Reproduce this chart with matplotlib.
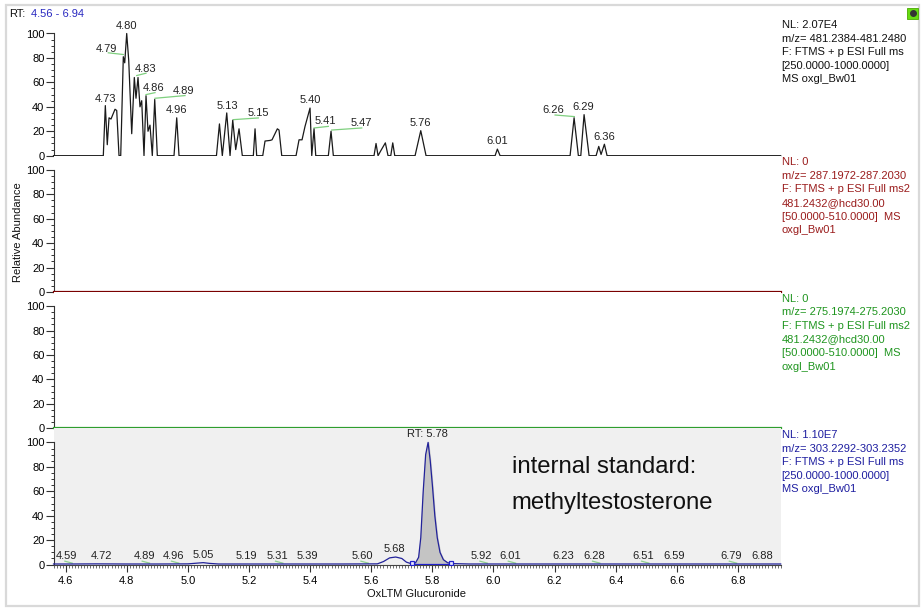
import matplotlib
matplotlib.use("Agg")
import matplotlib.pyplot as plt
import numpy as np
from matplotlib.patches import Rectangle
from matplotlib.lines import Line2D
from matplotlib.ticker import FixedLocator, MultipleLocator, FormatStrFormatter

plt.rcParams['font.family'] = ['Liberation Sans', 'DejaVu Sans']

W, H = 922, 608

# ---------------- data ----------------
rt_min, rt_max = 4.56, 6.94

# panel 1: m/z 481.2384-481.2480 (relative abundance)
trace1_rt = [4.560, 4.723, 4.7296, 4.736, 4.7417, 4.7482, 4.7613, 4.7669, 4.7744, 4.780,
             4.7885, 4.7931, 4.7996, 4.8062, 4.816, 4.8245, 4.830, 4.8366, 4.8431, 4.8487,
             4.8562, 4.8628, 4.8693, 4.8758, 4.8834, 4.8913, 4.8998, 4.9544, 4.9633, 4.9708,
             5.0933, 5.1031, 5.1125, 5.127, 5.1378, 5.1466, 5.1564, 5.1672, 5.178, 5.214,
             5.2196, 5.225, 5.2448, 5.2523, 5.2687, 5.2752, 5.2926, 5.2981, 5.307, 5.3538,
             5.3636, 5.3734, 5.3832, 5.3996, 5.4052, 5.4127, 5.4183, 5.4595, 5.4683, 5.4759,
             5.609, 5.6156, 5.6222, 5.631, 5.6461, 5.6549, 5.6638, 5.6703, 5.6769, 5.7433,
             5.762, 5.7793, 6.0052, 6.0127, 6.0216, 6.2507, 6.2638, 6.2778, 6.2857, 6.2965,
             6.3129, 6.3358, 6.3445, 6.3521, 6.363, 6.3718, 6.940]
trace1_int = [0, 0, 41, 9, 31, 30, 38, 37, 0, 0,
              81, 76, 100, 78, 18, 64, 47, 64, 40, 45,
              0, 49, 20, 25, 0, 46, 0, 0, 31, 0,
              0, 26, 0, 35, 0, 29, 5, 22, 0, 0,
              22, 0, 0, 12, 12.5, 13, 22, 21, 0, 0,
              13, 13, 24, 39, 0, 22, 0, 0, 20, 0,
              0, 10, 0, 4, 10.5, 0, 0, 10.5, 0, 0,
              20.5, 0, 0, 5.4, 0, 0, 31, 0, 0, 33.6,
              0, 0, 7.6, 1, 9.4, 0, 0]

# panels 2 and 3: NL 0 -> flat
trace2_rt = [4.56, 6.94]
trace2_int = [0, 0]
trace3_rt = [4.56, 6.94]
trace3_int = [0, 0]

# panel 4: internal standard m/z 303.2292-303.2352
trace4_rt = [4.56, 4.62, 4.70, 4.80, 4.90, 5.00, 5.03, 5.05, 5.07, 5.10,
             5.30, 5.50, 5.62, 5.64, 5.66, 5.68, 5.70, 5.715, 5.73, 5.745,
             5.755, 5.762, 5.770, 5.778, 5.786, 5.793, 5.800, 5.808, 5.816, 5.825,
             5.836, 5.85, 5.87, 5.92, 6.10, 6.40, 6.70, 6.94]
trace4_int = [0.5, 0.5, 0.6, 0.5, 0.5, 0.6, 1.2, 1.6, 1.0, 0.5,
              0.5, 0.5, 0.6, 2.5, 5.5, 6.2, 5.0, 2.0, 0.8, 1.5,
              6, 22, 60, 90, 100, 85, 65, 40, 22, 10,
              4, 1.5, 0.8, 0.5, 0.5, 0.5, 0.5, 0.5]
integ_bounds = [5.7345, 5.8611]

# peak labels panel 1: text, rt, y
p1_labels = ["4.73", "4.80", "4.79", "4.83", "4.86", "4.89", "4.96", "5.13", "5.15",
             "5.40", "5.41", "5.47", "5.76", "6.01", "6.26", "6.29", "6.36"]
p1_label_rt = [4.7286, 4.7973, 4.7319, 4.8628, 4.889, 4.9849, 4.9633, 5.1302, 5.2304,
               5.3996, 5.4487, 5.5689, 5.762, 6.0107, 6.196, 6.2922, 6.363]
p1_label_y = [46.5, 106, 87.5, 71, 55.5, 53.3, 37.5, 40.4, 34.7,
              45.6, 28.1, 26.5, 26.5, 11.7, 37.7, 39.6, 15]
# leader lines (rt0, y0, rt1, y1)
p1_leaders = [(4.7394, 84.2, 4.7885, 82.8), (4.8323, 65.6, 4.8628, 67.5),
              (4.8628, 50.0, 4.8922, 51.6), (4.8922, 47.0, 4.9904, 49.2),
              (5.1486, 29.5, 5.2304, 30.9), (5.4127, 22.7, 5.4595, 24.0),
              (5.4706, 21.0, 5.5689, 22.7), (6.2016, 33.3, 6.2647, 32.0)]

# peak labels panel 4
p4_labels = ["4.59", "4.72", "4.89", "4.96", "5.05", "5.19", "5.31", "5.39", "5.60",
             "5.68", "RT: 5.78", "5.92", "6.01", "6.23", "6.28", "6.51", "6.59", "6.79", "6.88"]
p4_label_rt = [4.6032, 4.7178, 4.8562, 4.9521, 5.0503, 5.1924, 5.2926, 5.3921, 5.5721,
               5.6756, 5.7849, 5.9616, 6.0543, 6.2287, 6.3302, 6.4906, 6.5921, 6.7777, 6.8782]
p4_label_y = [6.8, 6.8, 6.8, 6.8, 7.5, 6.8, 6.8, 6.8, 6.8,
              13, 106.8, 6.8, 6.8, 6.8, 6.8, 6.8, 6.8, 6.8, 6.8]
p4_green = ["4.59", "4.89", "4.96", "5.31", "5.60", "5.92", "6.01", "6.28", "6.51", "6.79"]

info1 = ["NL: 2.07E4", "m/z= 481.2384-481.2480", "F: FTMS + p ESI Full ms",
         "[250.0000-1000.0000]", "MS oxgl_Bw01"]
info2 = ["NL: 0", "m/z= 287.1972-287.2030", "F: FTMS + p ESI Full ms2",
         "481.2432@hcd30.00", "[50.0000-510.0000]  MS", "oxgl_Bw01"]
info3 = ["NL: 0", "m/z= 275.1974-275.2030", "F: FTMS + p ESI Full ms2",
         "481.2432@hcd30.00", "[50.0000-510.0000]  MS", "oxgl_Bw01"]
info4 = ["NL: 1.10E7", "m/z= 303.2292-303.2352", "F: FTMS + p ESI Full ms",
         "[250.0000-1000.0000]", "MS oxgl_Bw01"]

# ---------------- layout ----------------
FS = 8
fig = plt.figure(figsize=(W / 100, H / 100), dpi=100)
fig.patch.set_facecolor('white')

x0_px, x1_px = 53.5, 780.7
baselines = [155.7, 292.0, 428.3, 564.6]
span = 136.3
ytop = span / 1.222


def add_panel(base_px, face='white'):
    ax = fig.add_axes([x0_px / W, 1 - base_px / H, (x1_px - x0_px) / W, span / H])
    ax.set_xlim(rt_min, rt_max)
    ax.set_ylim(0, ytop)
    ax.set_facecolor(face)
    for s in ['top', 'right']:
        ax.spines[s].set_visible(False)
    ax.spines['left'].set_bounds(0, 100)
    ax.spines['left'].set_linewidth(0.8)
    ax.spines['left'].set_color('#333333')
    ax.yaxis.set_major_locator(FixedLocator([0, 20, 40, 60, 80, 100]))
    ax.yaxis.set_minor_locator(FixedLocator([v for v in range(5, 100, 5) if v % 20]))
    ax.tick_params(axis='y', which='major', length=5.5, width=0.8, pad=1, labelsize=FS,
                   direction='out', color='#333333')
    ax.tick_params(axis='y', which='minor', length=2.5, width=0.7, direction='out',
                   color='#333333')
    return ax


axes = [add_panel(b) for b in baselines[:3]]
axes.append(add_panel(baselines[3], face='#f0f0f0'))
for ax in axes[:3]:
    ax.spines['bottom'].set_visible(False)
    ax.set_xticks([])

# panel 1
a1 = axes[0]
a1.plot(trace1_rt, trace1_int, color='#1a1a1a', lw=0.9, clip_on=False, zorder=3)
for t, x, y in zip(p1_labels, p1_label_rt, p1_label_y):
    a1.text(x, y, t, ha='center', va='center', fontsize=FS, color='#222222', clip_on=False)
for (xa, ya, xb, yb) in p1_leaders:
    a1.plot([xa, xb], [ya, yb], color='#7fd07f', lw=0.9, clip_on=False)

# panels 2, 3
axes[1].plot(trace2_rt, trace2_int, color='#7a0000', lw=1.6, clip_on=False, zorder=3)
axes[2].plot(trace3_rt, trace3_int, color='#2e9e2e', lw=1.6, clip_on=False, zorder=3)

# panel 4
a4 = axes[3]
rt4 = np.array(trace4_rt)
in4 = np.array(trace4_int)
lo, hi = integ_bounds
m = (rt4 > lo) & (rt4 < hi)
fx = np.concatenate([[lo], rt4[m], [hi]])
fy = np.concatenate([[np.interp(lo, rt4, in4)], in4[m], [np.interp(hi, rt4, in4)]])
a4.fill_between(fx, 0.9, fy, color='#c4c4c4', zorder=2)
a4.plot(trace4_rt, trace4_int, color='#22229a', lw=0.9, clip_on=False, zorder=3)
a4.plot([lo, hi], [0.9, 0.9], color='#2222cc', lw=0.9, zorder=3)
a4.plot([lo, hi], [1.2, 1.2], ls='none', marker='s', ms=3.5, mfc='#e8e8ff',
        mec='#2222cc', mew=0.9, zorder=4)
for t, x, y in zip(p4_labels, p4_label_rt, p4_label_y):
    a4.text(x, y, t, ha='center', va='center', fontsize=FS, color='#222222', clip_on=False)
    if t in p4_green:
        a4.plot([x - 0.006, x + 0.018], [2.8, 1.2], color='#8fd08f', lw=0.9, zorder=2)
a4.spines['bottom'].set_color('#444444')
a4.spines['bottom'].set_linewidth(0.8)
a4.xaxis.set_major_locator(MultipleLocator(0.2))
a4.xaxis.set_minor_locator(MultipleLocator(0.01))
a4.xaxis.set_major_formatter(FormatStrFormatter('%.1f'))
a4.tick_params(axis='x', which='major', length=5, width=0.8, pad=3, labelsize=FS,
               direction='out', color='#333333')
a4.tick_params(axis='x', which='minor', length=2, width=0.6, direction='out',
               color='#555555')
a4.text(0.630, 0.718, "internal standard:", transform=a4.transAxes, fontsize=17.2,
        ha='left', va='center', color='#111111')
a4.text(0.630, 0.454, "methyltestosterone", transform=a4.transAxes, fontsize=17.2,
        ha='left', va='center', color='#111111')

# ---------------- figure texts ----------------
def ftext(px, py, s, **kw):
    fig.text(px / W, 1 - py / H, s, va='center', fontsize=FS, **kw)

for info, y0, col in [(info1, 25.0, '#111111'), (info2, 162.3, '#9a1c1c'),
                      (info3, 298.5, '#1f951f'), (info4, 435.0, '#1e1ea0')]:
    for i, line in enumerate(info):
        ftext(781.7, y0 + i * 13.6, line, ha='left', color=col)

ftext(9.3, 14, "RT:", ha='left', color='#111111')
ftext(30.5, 14, "4.56 - 6.94", ha='left', color='#2828c0')
fig.text(18.3 / W, 1 - 231.7 / H, "Relative Abundance", rotation=90, ha='center',
         va='center', fontsize=FS, color='#111111')
ftext(416.8, 594, "OxLTM Glucuronide", ha='center', color='#111111')

# outer frame and icon
fig.add_artist(Rectangle((6 / W, 1 - 606 / H), (919 - 6) / W, (606 - 5) / H,
                         transform=fig.transFigure, fill=False, ec='#d9d9d9', lw=1.6))
fig.add_artist(Rectangle((907 / W, 1 - 18.5 / H), 11 / W, 10.5 / H,
                         transform=fig.transFigure, fc='#66dd11', ec='#4caa00', lw=0.6))
fig.add_artist(Line2D([912.5 / W], [1 - 13.3 / H], marker='o', ms=4, color='#333333',
                      transform=fig.transFigure))

fig.savefig('out.png', dpi=100, facecolor='white')
